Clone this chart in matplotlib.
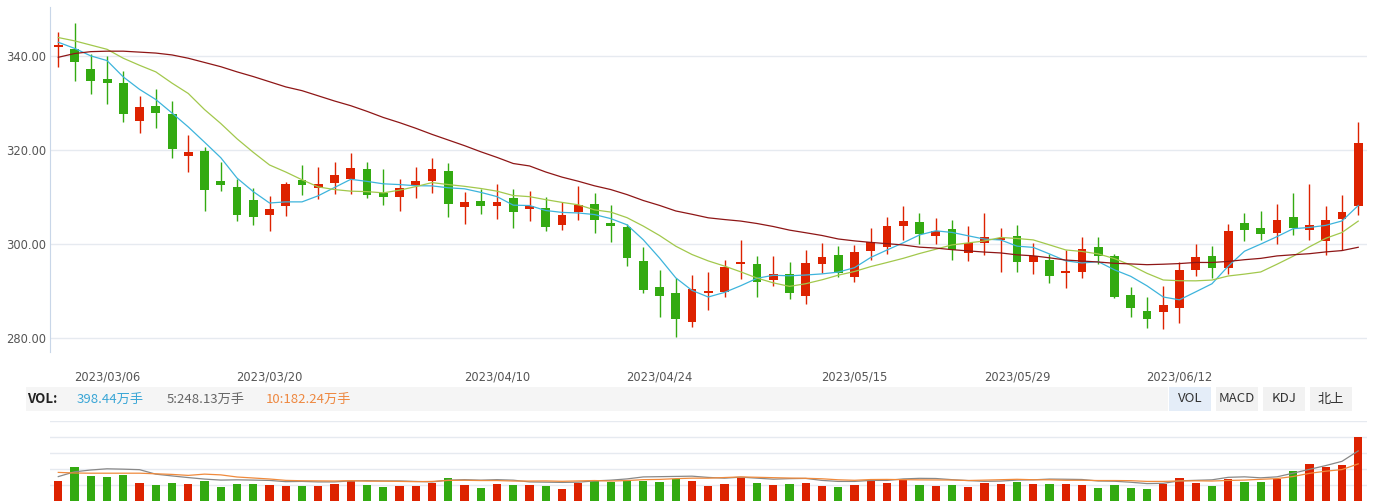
import numpy as np
import pandas as pd
import matplotlib
matplotlib.use('Agg')
import matplotlib.pyplot as plt
from matplotlib.patches import Rectangle

plt.rcParams['font.family'] = ['DejaVu Sans', 'Noto Sans CJK SC']

# trading days 2023/03/01 - 2023/06/29 (exchange holidays removed)
holidays = ['2023-04-05', '2023-05-01', '2023-05-02', '2023-05-03', '2023-06-22', '2023-06-23']
days = pd.bdate_range('2023-03-01', '2023-06-29')
days = days[~days.isin(pd.to_datetime(holidays))]
dates = days.strftime('%Y/%m/%d').tolist()

tick_dates = ['2023/03/06', '2023/03/20', '2023/04/10', '2023/04/24',
              '2023/05/15', '2023/05/29', '2023/06/12']

open_ = [342.0, 341.6, 337.3, 335.2, 334.3, 326.3, 329.4, 327.7, 318.9, 319.9,
         313.5, 312.2, 309.4, 306.3, 308.2, 313.7, 312.0, 313.1, 313.8, 316.0,
         311.0, 310.1, 312.6, 313.5, 315.6, 308.0, 309.2, 308.2, 309.9, 307.5,
         307.7, 304.1, 306.9, 308.6, 304.5, 303.7, 296.4, 290.9, 289.6, 283.5,
         289.6, 289.8, 295.9, 295.8, 292.4, 293.7, 289.0, 295.8, 297.7, 293.1,
         298.6, 299.5, 304.0, 304.7, 301.8, 303.3, 298.1, 300.3, 300.9, 301.8,
         296.2, 296.7, 294.0, 294.1, 299.4, 297.6, 289.2, 285.8, 285.6, 286.4,
         294.6, 297.5, 295.0, 304.5, 303.5, 302.4, 305.8, 303.0, 300.7, 305.4,
         308.2]
close = [342.4, 338.8, 334.7, 334.4, 327.8, 329.2, 328.0, 320.3, 319.6, 311.6,
         312.7, 306.3, 305.9, 307.5, 312.8, 312.7, 312.8, 314.7, 316.2, 310.6,
         310.1, 312.0, 313.5, 316.0, 308.6, 309.0, 308.2, 309.0, 306.9, 308.2,
         303.7, 306.2, 308.4, 305.2, 303.9, 297.1, 290.3, 289.0, 284.1, 290.5,
         290.1, 295.2, 296.1, 292.0, 293.7, 289.6, 296.0, 297.3, 293.9, 298.4,
         300.5, 303.9, 305.0, 302.2, 302.8, 298.8, 300.3, 301.5, 301.3, 296.2,
         297.5, 293.3, 294.2, 299.0, 297.6, 288.8, 286.4, 284.1, 287.1, 294.6,
         297.3, 295.0, 302.8, 303.0, 302.2, 305.2, 303.5, 304.1, 305.2, 306.9,
         321.6]
high = [345.2, 347.1, 340.4, 340.1, 336.9, 331.6, 333.0, 330.5, 323.3, 320.8,
        317.5, 313.9, 312.0, 310.3, 313.2, 316.9, 316.4, 317.5, 319.4, 317.5,
        316.0, 313.9, 316.4, 318.4, 317.3, 311.1, 311.8, 312.8, 311.8, 311.3,
        310.1, 309.0, 312.4, 310.9, 308.4, 304.3, 299.4, 294.5, 292.8, 293.5,
        294.1, 296.7, 300.9, 297.5, 297.5, 296.2, 298.8, 300.3, 299.6, 299.9,
        303.5, 305.8, 308.1, 306.7, 305.6, 305.2, 303.9, 306.7, 303.5, 304.1,
        300.3, 297.9, 298.8, 301.5, 301.6, 298.0, 290.9, 288.8, 291.1, 296.2,
        300.1, 299.6, 304.3, 306.7, 307.1, 308.6, 310.9, 312.8, 308.1, 310.5,
        326.0]
low = [337.8, 334.7, 332.0, 329.9, 326.1, 323.7, 324.8, 318.4, 315.4, 307.1,
       311.4, 305.0, 304.2, 302.9, 306.1, 310.6, 309.6, 310.7, 310.7, 309.9,
       308.4, 307.1, 309.9, 310.9, 305.8, 304.3, 306.4, 305.4, 303.5, 305.0,
       302.8, 303.0, 305.2, 302.4, 300.5, 295.4, 289.6, 284.5, 280.3, 282.4,
       286.0, 288.8, 292.6, 288.8, 291.1, 288.4, 287.3, 293.9, 293.1, 292.0,
       296.7, 297.9, 300.9, 300.1, 300.1, 296.7, 296.4, 297.7, 294.1, 294.1,
       293.7, 291.8, 290.7, 292.8, 295.8, 288.6, 284.5, 282.2, 282.0, 283.2,
       293.3, 292.8, 293.7, 300.7, 300.9, 300.1, 302.0, 300.9, 297.7, 298.8,
       306.2]
# volume, 万手
volume = [122.9, 210.4, 154.2, 147.9, 160.4, 110.4, 97.9, 110.4, 106.3, 122.9,
          85.4, 104.2, 104.2, 97.9, 91.7, 91.7, 91.7, 104.2, 122.9, 97.9,
          85.4, 91.7, 91.7, 110.4, 141.7, 97.9, 79.2, 104.2, 97.9, 97.9,
          91.7, 72.9, 110.4, 129.2, 116.7, 122.9, 122.9, 116.7, 135.4, 122.9,
          91.7, 104.2, 141.7, 110.4, 97.9, 104.2, 110.4, 91.7, 85.4, 97.9,
          129.2, 110.4, 129.2, 100.0, 93.8, 100.0, 87.5, 110.4, 106.3, 118.8,
          106.3, 106.3, 106.3, 100.0, 81.3, 100.0, 81.3, 72.9, 106.3, 143.8,
          112.5, 93.8, 135.4, 118.8, 118.8, 137.5, 185.4, 231.3, 212.5, 225.0,
          398.44]

# moving-average values before the window fills
ma5_head = [343.0, 341.7, 340.1, 339.1]
ma10_head = [344.0, 343.3, 342.4, 341.5, 339.6, 338.1, 336.7, 334.3, 332.1]
ma30_head = [339.8, 340.6, 341.0, 341.1, 341.1, 340.9, 340.7, 340.3, 339.6, 338.7,
             337.8, 336.7, 335.7, 334.6, 333.5, 332.7, 331.6, 330.5, 329.5, 328.3,
             327.0, 325.9, 324.7, 323.4, 322.2, 321.0, 319.7, 318.5, 317.2]
vma5_head = [122, 146, 155, 161]
vma10_head = [143, 140, 139, 139, 139, 139, 136, 133, 128]


def moving_avg(values, n, head):
    s = pd.Series(values).rolling(n).mean()
    s.iloc[:len(head)] = head
    return s.values


W, H = 1380, 501
RED = '#dd2200'
GREEN = '#33aa11'

o = np.array(open_)
c = np.array(close)
x = np.arange(len(dates))
up = c >= o
colors = np.where(up, RED, GREEN)

fig = plt.figure(figsize=(W / 100, H / 100), dpi=100)

# main candlestick panel
ax = fig.add_axes([50 / W, 1 - 352 / H, 1317 / W, 345 / H])
ax.vlines(x, low, high, colors=colors, lw=1.0, zorder=2)
body = np.maximum(np.abs(c - o), 0.25)
ax.bar(x, body, bottom=np.minimum(o, c), width=0.55, color=colors, zorder=3)

ax.plot(x, moving_avg(close, 5, ma5_head), color='#3db4dc', lw=0.9, zorder=4)
ax.plot(x, moving_avg(close, 10, ma10_head), color='#a2c84c', lw=0.9, zorder=4)
ax.plot(x, moving_avg(close, 30, ma30_head), color='#8e1616', lw=0.9, zorder=4)

ax.set_xlim(-0.51, 80.54)
ax.set_ylim(277.1, 350.5)
ax.set_yticks([280, 300, 320, 340])
ax.set_yticklabels(['%.2f' % v for v in [280, 300, 320, 340]])
ax.grid(axis='y', color='#e6eaf0', lw=1)
ax.set_axisbelow(True)
ax.set_xticks([dates.index(d) for d in tick_dates])
ax.set_xticklabels(tick_dates)
ax.tick_params(axis='y', length=0, pad=3, labelsize=8.3, labelcolor='#555555')
ax.tick_params(axis='x', length=0, pad=13.5, labelsize=8.3, labelcolor='#555555')
for side in ['top', 'right', 'bottom']:
    ax.spines[side].set_visible(False)
ax.spines['left'].set_color('#c8d6e8')

# indicator bar
fig.add_artist(Rectangle((26 / W, 1 - 411 / H), (1168 - 26) / W, 24 / H,
                         transform=fig.transFigure, color='#f5f5f5', lw=0))
cjk = ['Noto Sans CJK SC', 'DejaVu Sans']
yt = 1 - 399 / H
fig.text(27 / W, yt, 'VOL:', fontsize=9.5, weight='bold', color='#222222', va='center', family=cjk)
fig.text(77 / W, yt, '398.44万手', fontsize=9.5, color='#3aa6d6', va='center', family=cjk)
fig.text(167 / W, yt, '5:248.13万手', fontsize=9.5, color='#666666', va='center', family=cjk)
fig.text(266 / W, yt, '10:182.24万手', fontsize=9.5, color='#ee8840', va='center', family=cjk)

buttons = ['VOL', 'MACD', 'KDJ', '北上']
btn_left = [1169, 1216, 1263, 1310]
for name, bx in zip(buttons, btn_left):
    bg = '#e4edf8' if name == 'VOL' else '#f2f2f2'
    fig.add_artist(Rectangle((bx / W, 1 - 411 / H), 42 / W, 24 / H,
                             transform=fig.transFigure, color=bg, lw=0))
    fig.text((bx + 21) / W, yt, name, fontsize=9.5, color='#333333',
             ha='center', va='center', family=cjk)

# volume panel
axv = fig.add_axes([50 / W, 0, 1317 / W, 80 / H])
axv.bar(x, volume, width=0.5, color=colors, zorder=3)
axv.set_xlim(-0.51, 80.54)
axv.set_ylim(0, 500)
axv.set_yticks([100, 200, 300, 400, 500])
axv.grid(axis='y', color='#e6eaf0', lw=1)
axv.set_axisbelow(True)
axv.set_xticks([])
axv.tick_params(axis='y', length=0, labelleft=False)
for side in axv.spines:
    axv.spines[side].set_visible(False)

axl = axv.twinx()
axl.plot(x, moving_avg(volume, 5, vma5_head), color='#888888', lw=0.9, zorder=4)
axl.plot(x, moving_avg(volume, 10, vma10_head), color='#f08a3c', lw=0.9, zorder=4)
axl.set_ylim(0, 400)
axl.set_yticks([])
for side in axl.spines:
    axl.spines[side].set_visible(False)

plt.savefig('out.png', dpi=100)
